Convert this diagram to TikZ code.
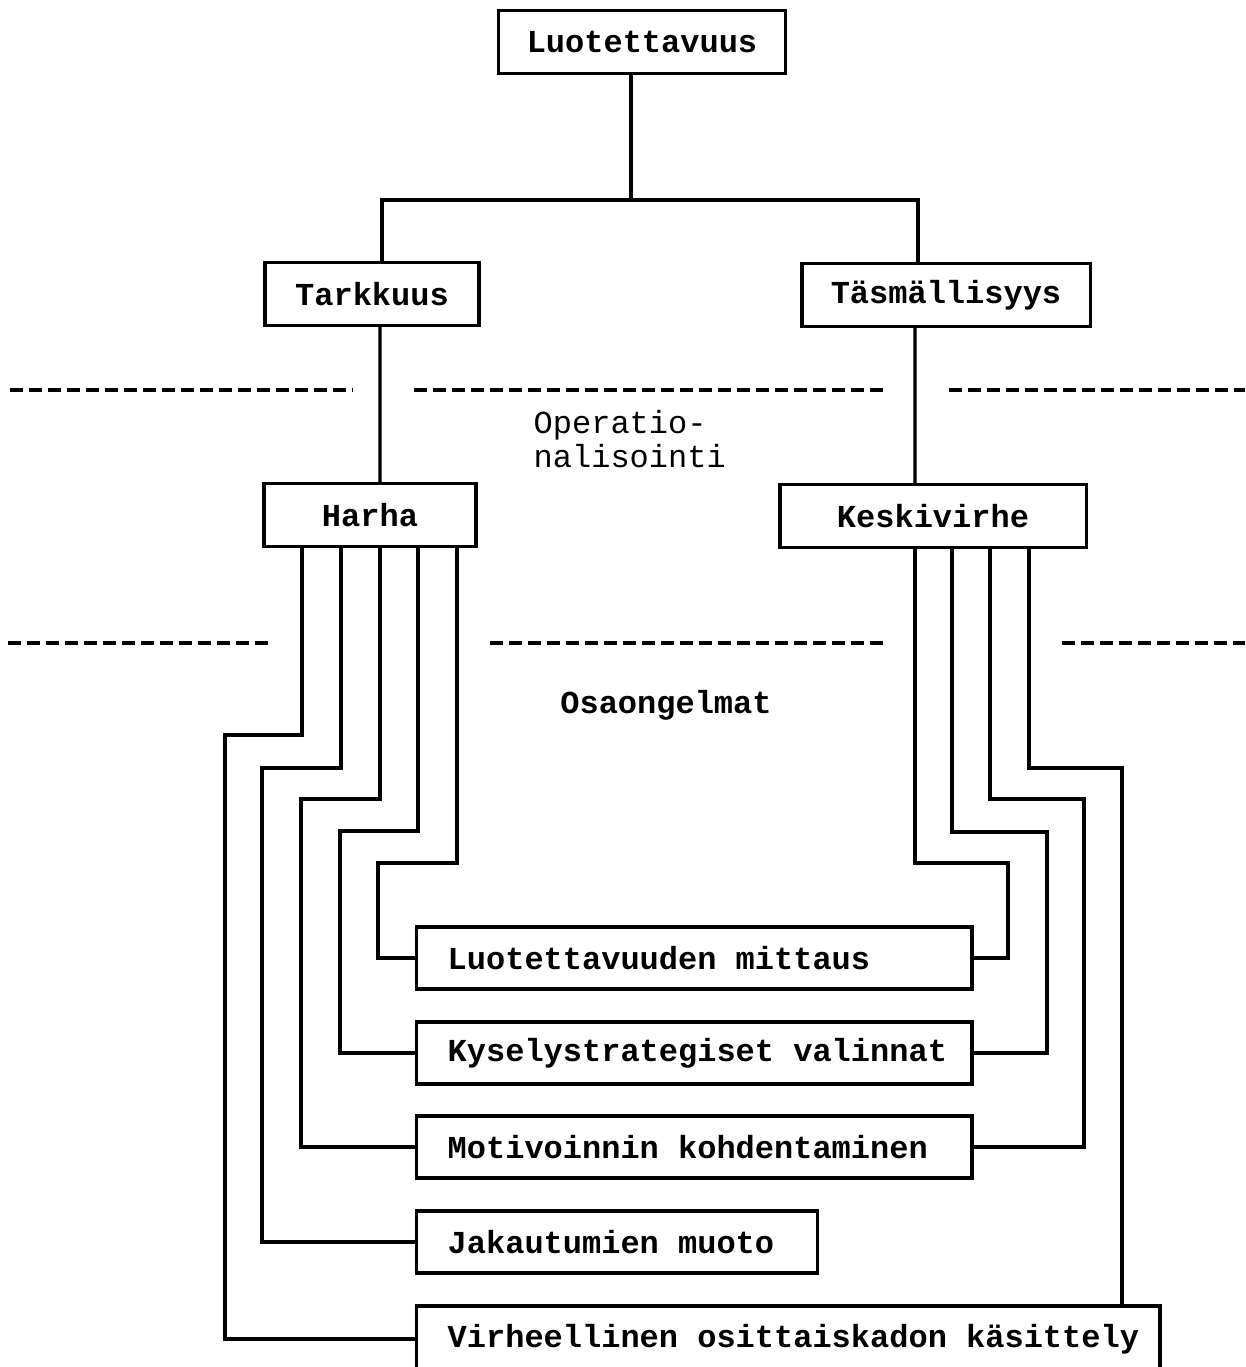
\documentclass[tikz,border=0pt]{standalone}
\usepackage{fontspec}
\setmainfont{Liberation Mono}
\usetikzlibrary{positioning,calc}

\newcommand{\kaaviofontti}{\fontsize{9.1}{10}\selectfont}

\tikzset{
  laatikko/.style={draw, line width=0.9pt, minimum height=0.63cm, inner sep=0pt, font=\kaaviofontti\bfseries},
  alalaatikko/.style={draw, line width=0.9pt, minimum height=0.62cm, inner sep=0pt, anchor=west},
  teksti/.style={anchor=west, xshift=0.32cm, inner sep=0pt, font=\kaaviofontti\bfseries},
  yhteys/.style={line width=0.9pt},
  raja/.style={line width=1.2pt, dash pattern=on 0.13cm off 0.06cm}
}

\begin{document}
\begin{tikzpicture}[x=0.01cm, y=-0.01cm, font=\kaaviofontti]
    \useasboundingbox (0,0) rectangle (1245,1367);

    % Ylataso
    \node[laatikko, minimum width=2.87cm] (luot) at (642,42) {Luotettavuus};
    \node[laatikko, minimum width=2.14cm] (tark) at (372,294) {Tarkkuus};
    \node[laatikko, minimum width=2.88cm] (tasm) at (946,295) {Täsmällisyys};
    \node[laatikko, minimum width=2.12cm] (harha) at (370,515) {Harha};
    \node[laatikko, minimum width=3.06cm] (keski) at (933,516) {Keskivirhe};

    \coordinate (haara) at (631,200);
    \draw[yhteys] (haara |- luot.south) -- (haara);
    \draw[yhteys] ([xshift=0.1cm]tark.north) |- (haara) -| ([xshift=-0.28cm]tasm.north);
    \draw[yhteys] ([xshift=0.08cm]tark.south) -- ([xshift=0.1cm]harha.north);
    \draw[yhteys] ([xshift=-0.31cm]tasm.south) -- ([xshift=-0.18cm]keski.north);

    % Rajat
    \draw[raja] (10,390) -- (353,390);
    \draw[raja] (414,390) -- (887,390);
    \draw[raja] (949,390) -- (1245,390);
    \draw[raja] (8,643) -- (274,643);
    \draw[raja] (490,643) -- (886,643);
    \draw[raja] (1062,643) -- (1245,643);

    \node[anchor=west, align=left, inner sep=0pt, font=\fontsize{9.1}{8.3}\selectfont] (oper) at (533,439) {Operatio-\\nalisointi};
    \node[font=\kaaviofontti\bfseries] (osa) at (666,705) {Osaongelmat};

    % Osaongelmat
    \node[alalaatikko, minimum width=5.55cm, label={[teksti]west:Luotettavuuden mittaus}] (mittaus) at (415,958) {};
    \node[alalaatikko, minimum width=5.55cm, label={[teksti]west:Kyselystrategiset valinnat}] (kysely) at (415,1053) {};
    \node[alalaatikko, minimum width=5.55cm, label={[teksti]west:Motivoinnin kohdentaminen}] (motiv) at (415,1147) {};
    \node[alalaatikko, minimum width=4.01cm, label={[teksti]west:Jakautumien muoto}] (jakau) at (415,1242) {};
    \node[alalaatikko, minimum width=7.43cm, minimum height=0.66cm, label={[teksti]west:Virheellinen osittaiskadon käsittely}] (virhe) at (415,1339) {};

    \foreach \dx/\yk/\xv/\kohde in {-0.68/735/225/virhe, -0.29/768/262/jakau, 0.1/799/301/motiv, 0.48/831/340/kysely, 0.87/863/378/mittaus}
        \draw[yhteys] ([xshift=\dx cm]harha.south) |- (\xv,\yk) |- (\kohde.west);

    \foreach \dx/\yk/\xv/\kohde in {-0.18/863/1008/mittaus, 0.19/832/1047/kysely, 0.57/799/1084/motiv}
        \draw[yhteys] ([xshift=\dx cm]keski.south) |- (\xv,\yk) |- (\kohde.east);
    \draw[yhteys] ([xshift=0.96cm]keski.south) |- (1122,768) coordinate (kulma) -- (kulma |- virhe.north);
\end{tikzpicture}
\end{document}
